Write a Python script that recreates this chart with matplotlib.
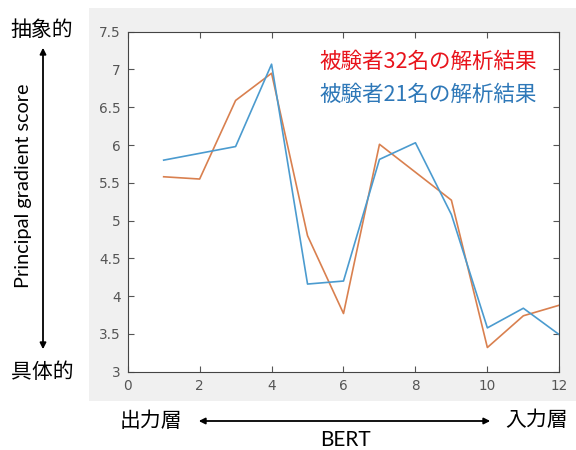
import matplotlib.pyplot as plt
from matplotlib.patches import Rectangle, FancyArrowPatch
from matplotlib.ticker import FormatStrFormatter

# BERT layer index and principal gradient score for two subject groups
layers = [1, 2, 3, 4, 5, 6, 7, 8, 9, 10, 11, 12]
score_32 = [5.58, 5.55, 6.59, 6.95, 4.80, 3.77, 6.01, 5.64, 5.27, 3.32, 3.74, 3.88]
score_21 = [5.80, 5.89, 5.98, 7.07, 4.16, 4.20, 5.81, 6.03, 5.08, 3.58, 3.84, 3.49]

x_ticks = [0, 2, 4, 6, 8, 10, 12]
y_ticks = [3, 3.5, 4, 4.5, 5, 5.5, 6, 6.5, 7, 7.5]

label_32 = "被験者32名の解析結果"
label_21 = "被験者21名の解析結果"

jp = ['Noto Sans CJK JP', 'DejaVu Sans']

fig = plt.figure(figsize=(5.76, 4.5), dpi=100)

# grey MATLAB-like figure panel behind the axes
fig.patches.append(Rectangle((89 / 576, 49 / 450), 1 - 89 / 576, 393 / 450,
                             transform=fig.transFigure, facecolor='#f0f0f0',
                             edgecolor='none', zorder=-10))

ax = fig.add_axes([127.7 / 576, 78.3 / 450, 431.6 / 576, 340 / 450])
ax.set_zorder(1)
ax.set_facecolor('white')
ax.plot(layers, score_32, color='#d9804f', lw=1.2)
ax.plot(layers, score_21, color='#4b9bcf', lw=1.2)

ax.set_xlim(0, 12)
ax.set_ylim(3, 7.5)
ax.set_xticks(x_ticks)
ax.set_yticks(y_ticks)
ax.yaxis.set_major_formatter(FormatStrFormatter('%g'))
ax.tick_params(direction='in', top=True, right=True, length=4, width=0.8,
               colors='#555555', labelsize=9.8, labelcolor='#555555', pad=5)
for sp in ax.spines.values():
    sp.set_color('#444444')
    sp.set_linewidth(0.8)

ax.text(0.949, 0.910, label_32, transform=ax.transAxes, color='#e8141c',
        fontsize=15.5, family=jp, ha='right', va='center')
ax.text(0.949, 0.815, label_21, transform=ax.transAxes, color='#2e78b8',
        fontsize=15.5, family=jp, ha='right', va='center')

# left side: vertical axis annotation
fig.text(42 / 576, 1 - 30 / 450, "抽象的", family=jp, fontsize=15,
         ha='center', va='center')
fig.text(42 / 576, 1 - 372 / 450, "具体的", family=jp, fontsize=15,
         ha='center', va='center')
fig.text(24 / 576, 1 - 186 / 450, "Principal gradient score", family='Lato',
         fontsize=14.3, rotation=90, ha='center', va='center')
fig.patches.append(FancyArrowPatch((43 / 576, 1 - 352 / 450), (43 / 576, 1 - 45 / 450),
                                   transform=fig.transFigure, arrowstyle='<|-|>',
                                   mutation_scale=9, lw=1.3, color='black'))

# bottom: layer direction annotation
fig.text(151 / 576, 1 - 421 / 450, "出力層", family=jp, fontsize=15,
         ha='center', va='center')
fig.text(537 / 576, 1 - 420 / 450, "入力層", family=jp, fontsize=15,
         ha='center', va='center')
fig.text(345 / 576, 1 - 440 / 450, "BERT", family='Lato', fontsize=15,
         ha='center', va='center')
fig.patches.append(FancyArrowPatch((196 / 576, 1 - 421 / 450), (493 / 576, 1 - 421 / 450),
                                   transform=fig.transFigure, arrowstyle='<|-|>',
                                   mutation_scale=9, lw=1.3, color='black'))

fig.savefig('out.png', dpi=100)
